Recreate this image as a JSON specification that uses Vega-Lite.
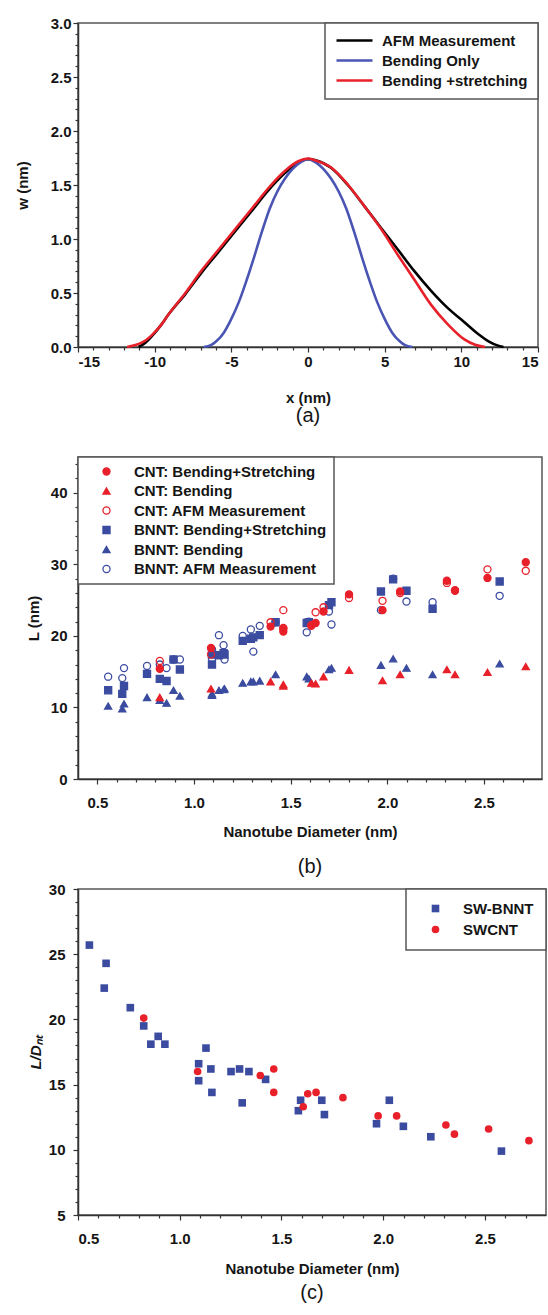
{
  "$schema": "https://vega.github.io/schema/vega-lite/v6.json",
  "padding": {"left": 14, "top": 15, "right": 0, "bottom": 0},
  "bounds": "flush",
  "spacing": 110,
  "background": "white",
  "resolve": {
    "scale": {"x": "independent", "y": "independent", "color": "independent", "shape": "independent", "stroke": "independent", "fill": "independent"},
    "legend": {"color": "independent", "shape": "independent", "stroke": "independent", "fill": "independent"}
  },
  "config": {
    "font": "Liberation Sans",
    "view": {"stroke": "#555555", "strokeWidth": 1.5},
    "axis": {
      "grid": false,
      "labelFont": "Liberation Sans", "labelFontSize": 15, "labelFontWeight": "bold", "labelColor": "#151515",
      "titleFont": "Liberation Sans", "titleFontSize": 15, "titleFontWeight": "bold", "titleColor": "#151515",
      "domainColor": "#333333", "domainWidth": 1.5, "tickColor": "#333333", "tickWidth": 1.2, "tickSize": 5
    },
    "legend": {
      "labelFont": "Liberation Sans", "labelFontSize": 15, "labelFontWeight": "bold", "labelColor": "#151515", "labelLimit": 400,
      "strokeColor": "#555555", "fillColor": "white", "strokeWidth": 1.5, "cornerRadius": 0
    },
    "title": {"font": "Liberation Sans", "fontSize": 20, "fontWeight": "normal", "color": "#151515"}
  },
  "datasets": {
    "curves": [
      {"series": "AFM Measurement", "x": -11.05, "w": 0},
      {"series": "AFM Measurement", "x": -10.6, "w": 0.04},
      {"series": "AFM Measurement", "x": -10.18, "w": 0.1},
      {"series": "AFM Measurement", "x": -9.6, "w": 0.2},
      {"series": "AFM Measurement", "x": -9.1, "w": 0.3},
      {"series": "AFM Measurement", "x": -8.0, "w": 0.49},
      {"series": "AFM Measurement", "x": -6.93, "w": 0.69},
      {"series": "AFM Measurement", "x": -5.84, "w": 0.88},
      {"series": "AFM Measurement", "x": -4.76, "w": 1.07},
      {"series": "AFM Measurement", "x": -3.67, "w": 1.26},
      {"series": "AFM Measurement", "x": -2.59, "w": 1.45},
      {"series": "AFM Measurement", "x": -1.51, "w": 1.61},
      {"series": "AFM Measurement", "x": -0.64, "w": 1.71},
      {"series": "AFM Measurement", "x": 0, "w": 1.74},
      {"series": "AFM Measurement", "x": 0.5, "w": 1.73},
      {"series": "AFM Measurement", "x": 1.5, "w": 1.66},
      {"series": "AFM Measurement", "x": 2.6, "w": 1.5},
      {"series": "AFM Measurement", "x": 3.7, "w": 1.3},
      {"series": "AFM Measurement", "x": 4.78, "w": 1.1},
      {"series": "AFM Measurement", "x": 5.87, "w": 0.9},
      {"series": "AFM Measurement", "x": 6.95, "w": 0.7},
      {"series": "AFM Measurement", "x": 8.03, "w": 0.52},
      {"series": "AFM Measurement", "x": 9.12, "w": 0.36},
      {"series": "AFM Measurement", "x": 10.2, "w": 0.23},
      {"series": "AFM Measurement", "x": 11.1, "w": 0.12},
      {"series": "AFM Measurement", "x": 11.8, "w": 0.05},
      {"series": "AFM Measurement", "x": 12.35, "w": 0.015},
      {"series": "AFM Measurement", "x": 12.75, "w": 0},
      {"series": "Bending Only", "x": -6.8, "w": 0},
      {"series": "Bending Only", "x": -6.3, "w": 0.02},
      {"series": "Bending Only", "x": -6.0, "w": 0.05},
      {"series": "Bending Only", "x": -5.5, "w": 0.13},
      {"series": "Bending Only", "x": -5.0, "w": 0.26},
      {"series": "Bending Only", "x": -4.5, "w": 0.42},
      {"series": "Bending Only", "x": -4.0, "w": 0.62},
      {"series": "Bending Only", "x": -3.5, "w": 0.84},
      {"series": "Bending Only", "x": -3.0, "w": 1.07},
      {"series": "Bending Only", "x": -2.5, "w": 1.28},
      {"series": "Bending Only", "x": -2.0, "w": 1.44},
      {"series": "Bending Only", "x": -1.5, "w": 1.56},
      {"series": "Bending Only", "x": -1.0, "w": 1.65},
      {"series": "Bending Only", "x": -0.5, "w": 1.71},
      {"series": "Bending Only", "x": 0, "w": 1.74},
      {"series": "Bending Only", "x": 0.5, "w": 1.71},
      {"series": "Bending Only", "x": 1.0, "w": 1.65},
      {"series": "Bending Only", "x": 1.5, "w": 1.56},
      {"series": "Bending Only", "x": 2.0, "w": 1.44},
      {"series": "Bending Only", "x": 2.5, "w": 1.28},
      {"series": "Bending Only", "x": 3.0, "w": 1.07},
      {"series": "Bending Only", "x": 3.5, "w": 0.84},
      {"series": "Bending Only", "x": 4.0, "w": 0.62},
      {"series": "Bending Only", "x": 4.5, "w": 0.42},
      {"series": "Bending Only", "x": 5.0, "w": 0.26},
      {"series": "Bending Only", "x": 5.5, "w": 0.13},
      {"series": "Bending Only", "x": 6.0, "w": 0.05},
      {"series": "Bending Only", "x": 6.3, "w": 0.02},
      {"series": "Bending Only", "x": 6.8, "w": 0},
      {"series": "Bending +stretching", "x": -11.8, "w": 0},
      {"series": "Bending +stretching", "x": -11.2, "w": 0.02},
      {"series": "Bending +stretching", "x": -10.6, "w": 0.06},
      {"series": "Bending +stretching", "x": -10.18, "w": 0.11},
      {"series": "Bending +stretching", "x": -9.6, "w": 0.2},
      {"series": "Bending +stretching", "x": -9.1, "w": 0.3},
      {"series": "Bending +stretching", "x": -8.0, "w": 0.5},
      {"series": "Bending +stretching", "x": -6.93, "w": 0.71},
      {"series": "Bending +stretching", "x": -5.84, "w": 0.9},
      {"series": "Bending +stretching", "x": -4.76, "w": 1.09},
      {"series": "Bending +stretching", "x": -3.67, "w": 1.28},
      {"series": "Bending +stretching", "x": -2.59, "w": 1.47},
      {"series": "Bending +stretching", "x": -1.51, "w": 1.63},
      {"series": "Bending +stretching", "x": -0.64, "w": 1.72},
      {"series": "Bending +stretching", "x": 0, "w": 1.745},
      {"series": "Bending +stretching", "x": 0.44, "w": 1.73},
      {"series": "Bending +stretching", "x": 1.53, "w": 1.66},
      {"series": "Bending +stretching", "x": 2.62, "w": 1.5},
      {"series": "Bending +stretching", "x": 3.7, "w": 1.3},
      {"series": "Bending +stretching", "x": 4.78, "w": 1.09},
      {"series": "Bending +stretching", "x": 5.87, "w": 0.85},
      {"series": "Bending +stretching", "x": 6.95, "w": 0.62},
      {"series": "Bending +stretching", "x": 8.03, "w": 0.39},
      {"series": "Bending +stretching", "x": 9.12, "w": 0.21},
      {"series": "Bending +stretching", "x": 10.2, "w": 0.07},
      {"series": "Bending +stretching", "x": 10.9, "w": 0.02},
      {"series": "Bending +stretching", "x": 11.55, "w": 0}
    ],
    "lengths": [
      {"s": "BNNT: Bending+Stretching", "d": 0.556, "L": 12.4},
      {"s": "BNNT: Bending+Stretching", "d": 0.629, "L": 11.9},
      {"s": "BNNT: Bending+Stretching", "d": 0.638, "L": 13.0},
      {"s": "BNNT: Bending+Stretching", "d": 0.757, "L": 14.7},
      {"s": "BNNT: Bending+Stretching", "d": 0.823, "L": 14.0},
      {"s": "BNNT: Bending+Stretching", "d": 0.858, "L": 13.7},
      {"s": "BNNT: Bending+Stretching", "d": 0.894, "L": 16.7},
      {"s": "BNNT: Bending+Stretching", "d": 0.927, "L": 15.3},
      {"s": "BNNT: Bending+Stretching", "d": 1.093, "L": 17.4},
      {"s": "BNNT: Bending+Stretching", "d": 1.093, "L": 16.0},
      {"s": "BNNT: Bending+Stretching", "d": 1.129, "L": 17.3},
      {"s": "BNNT: Bending+Stretching", "d": 1.153, "L": 17.6},
      {"s": "BNNT: Bending+Stretching", "d": 1.158, "L": 17.4},
      {"s": "BNNT: Bending+Stretching", "d": 1.252, "L": 19.3},
      {"s": "BNNT: Bending+Stretching", "d": 1.294, "L": 19.6},
      {"s": "BNNT: Bending+Stretching", "d": 1.307, "L": 19.8},
      {"s": "BNNT: Bending+Stretching", "d": 1.34, "L": 20.1},
      {"s": "BNNT: Bending+Stretching", "d": 1.422, "L": 21.9},
      {"s": "BNNT: Bending+Stretching", "d": 1.583, "L": 21.8},
      {"s": "BNNT: Bending+Stretching", "d": 1.594, "L": 21.9},
      {"s": "BNNT: Bending+Stretching", "d": 1.698, "L": 24.3},
      {"s": "BNNT: Bending+Stretching", "d": 1.711, "L": 24.7},
      {"s": "BNNT: Bending+Stretching", "d": 1.967, "L": 26.2},
      {"s": "BNNT: Bending+Stretching", "d": 2.03, "L": 27.9},
      {"s": "BNNT: Bending+Stretching", "d": 2.099, "L": 26.3},
      {"s": "BNNT: Bending+Stretching", "d": 2.234, "L": 23.8},
      {"s": "BNNT: Bending+Stretching", "d": 2.581, "L": 27.6},
      {"s": "BNNT: Bending", "d": 0.556, "L": 10.2},
      {"s": "BNNT: Bending", "d": 0.629, "L": 9.8},
      {"s": "BNNT: Bending", "d": 0.638, "L": 10.5},
      {"s": "BNNT: Bending", "d": 0.757, "L": 11.4},
      {"s": "BNNT: Bending", "d": 0.823, "L": 11.0},
      {"s": "BNNT: Bending", "d": 0.858, "L": 10.6},
      {"s": "BNNT: Bending", "d": 0.894, "L": 12.4},
      {"s": "BNNT: Bending", "d": 0.927, "L": 11.6},
      {"s": "BNNT: Bending", "d": 1.093, "L": 11.7},
      {"s": "BNNT: Bending", "d": 1.093, "L": 11.9},
      {"s": "BNNT: Bending", "d": 1.129, "L": 12.4},
      {"s": "BNNT: Bending", "d": 1.153, "L": 12.5},
      {"s": "BNNT: Bending", "d": 1.158, "L": 12.6},
      {"s": "BNNT: Bending", "d": 1.252, "L": 13.4},
      {"s": "BNNT: Bending", "d": 1.294, "L": 13.6},
      {"s": "BNNT: Bending", "d": 1.307, "L": 13.6},
      {"s": "BNNT: Bending", "d": 1.34, "L": 13.7},
      {"s": "BNNT: Bending", "d": 1.422, "L": 14.6},
      {"s": "BNNT: Bending", "d": 1.583, "L": 14.3},
      {"s": "BNNT: Bending", "d": 1.594, "L": 14.0},
      {"s": "BNNT: Bending", "d": 1.698, "L": 15.3},
      {"s": "BNNT: Bending", "d": 1.711, "L": 15.5},
      {"s": "BNNT: Bending", "d": 1.967, "L": 15.9},
      {"s": "BNNT: Bending", "d": 2.03, "L": 16.8},
      {"s": "BNNT: Bending", "d": 2.099, "L": 15.5},
      {"s": "BNNT: Bending", "d": 2.234, "L": 14.6},
      {"s": "BNNT: Bending", "d": 2.581, "L": 16.1},
      {"s": "BNNT: AFM Measurement", "d": 0.556, "L": 14.3},
      {"s": "BNNT: AFM Measurement", "d": 0.629, "L": 14.1},
      {"s": "BNNT: AFM Measurement", "d": 0.638, "L": 15.5},
      {"s": "BNNT: AFM Measurement", "d": 0.757, "L": 15.8},
      {"s": "BNNT: AFM Measurement", "d": 0.823, "L": 16.0},
      {"s": "BNNT: AFM Measurement", "d": 0.858, "L": 15.5},
      {"s": "BNNT: AFM Measurement", "d": 0.894, "L": 16.7},
      {"s": "BNNT: AFM Measurement", "d": 0.927, "L": 16.7},
      {"s": "BNNT: AFM Measurement", "d": 1.093, "L": 18.1},
      {"s": "BNNT: AFM Measurement", "d": 1.093, "L": 16.8},
      {"s": "BNNT: AFM Measurement", "d": 1.129, "L": 20.1},
      {"s": "BNNT: AFM Measurement", "d": 1.153, "L": 18.7},
      {"s": "BNNT: AFM Measurement", "d": 1.158, "L": 16.7},
      {"s": "BNNT: AFM Measurement", "d": 1.252, "L": 20.0},
      {"s": "BNNT: AFM Measurement", "d": 1.294, "L": 20.9},
      {"s": "BNNT: AFM Measurement", "d": 1.307, "L": 17.8},
      {"s": "BNNT: AFM Measurement", "d": 1.34, "L": 21.4},
      {"s": "BNNT: AFM Measurement", "d": 1.422, "L": 21.9},
      {"s": "BNNT: AFM Measurement", "d": 1.583, "L": 20.5},
      {"s": "BNNT: AFM Measurement", "d": 1.594, "L": 22.0},
      {"s": "BNNT: AFM Measurement", "d": 1.698, "L": 23.4},
      {"s": "BNNT: AFM Measurement", "d": 1.711, "L": 21.6},
      {"s": "BNNT: AFM Measurement", "d": 1.967, "L": 23.6},
      {"s": "BNNT: AFM Measurement", "d": 2.03, "L": 28.0},
      {"s": "BNNT: AFM Measurement", "d": 2.099, "L": 24.8},
      {"s": "BNNT: AFM Measurement", "d": 2.234, "L": 24.7},
      {"s": "BNNT: AFM Measurement", "d": 2.581, "L": 25.6},
      {"s": "CNT: Bending+Stretching", "d": 0.823, "L": 15.4},
      {"s": "CNT: Bending+Stretching", "d": 1.088, "L": 18.3},
      {"s": "CNT: Bending+Stretching", "d": 1.396, "L": 21.3},
      {"s": "CNT: Bending+Stretching", "d": 1.462, "L": 20.6},
      {"s": "CNT: Bending+Stretching", "d": 1.462, "L": 21.0},
      {"s": "CNT: Bending+Stretching", "d": 1.607, "L": 21.5},
      {"s": "CNT: Bending+Stretching", "d": 1.629, "L": 21.8},
      {"s": "CNT: Bending+Stretching", "d": 1.67, "L": 23.4},
      {"s": "CNT: Bending+Stretching", "d": 1.802, "L": 25.8},
      {"s": "CNT: Bending+Stretching", "d": 1.975, "L": 23.6},
      {"s": "CNT: Bending+Stretching", "d": 2.066, "L": 26.2},
      {"s": "CNT: Bending+Stretching", "d": 2.308, "L": 27.7},
      {"s": "CNT: Bending+Stretching", "d": 2.35, "L": 26.3},
      {"s": "CNT: Bending+Stretching", "d": 2.518, "L": 28.1},
      {"s": "CNT: Bending+Stretching", "d": 2.716, "L": 30.3},
      {"s": "CNT: Bending", "d": 0.823, "L": 11.4},
      {"s": "CNT: Bending", "d": 1.088, "L": 12.6},
      {"s": "CNT: Bending", "d": 1.396, "L": 13.6},
      {"s": "CNT: Bending", "d": 1.462, "L": 13.2},
      {"s": "CNT: Bending", "d": 1.462, "L": 13.0},
      {"s": "CNT: Bending", "d": 1.607, "L": 13.4},
      {"s": "CNT: Bending", "d": 1.629, "L": 13.3},
      {"s": "CNT: Bending", "d": 1.67, "L": 14.3},
      {"s": "CNT: Bending", "d": 1.802, "L": 15.2},
      {"s": "CNT: Bending", "d": 1.975, "L": 13.75},
      {"s": "CNT: Bending", "d": 2.066, "L": 14.6},
      {"s": "CNT: Bending", "d": 2.308, "L": 15.3},
      {"s": "CNT: Bending", "d": 2.35, "L": 14.6},
      {"s": "CNT: Bending", "d": 2.518, "L": 14.9},
      {"s": "CNT: Bending", "d": 2.716, "L": 15.7},
      {"s": "CNT: AFM Measurement", "d": 0.823, "L": 16.5},
      {"s": "CNT: AFM Measurement", "d": 1.088, "L": 17.4},
      {"s": "CNT: AFM Measurement", "d": 1.396, "L": 21.9},
      {"s": "CNT: AFM Measurement", "d": 1.462, "L": 23.6},
      {"s": "CNT: AFM Measurement", "d": 1.462, "L": 21.1},
      {"s": "CNT: AFM Measurement", "d": 1.607, "L": 21.4},
      {"s": "CNT: AFM Measurement", "d": 1.629, "L": 23.3},
      {"s": "CNT: AFM Measurement", "d": 1.67, "L": 24.0},
      {"s": "CNT: AFM Measurement", "d": 1.802, "L": 25.3},
      {"s": "CNT: AFM Measurement", "d": 1.975, "L": 24.9},
      {"s": "CNT: AFM Measurement", "d": 2.066, "L": 26.0},
      {"s": "CNT: AFM Measurement", "d": 2.308, "L": 27.4},
      {"s": "CNT: AFM Measurement", "d": 2.35, "L": 26.4},
      {"s": "CNT: AFM Measurement", "d": 2.518, "L": 29.3},
      {"s": "CNT: AFM Measurement", "d": 2.716, "L": 29.1}
    ],
    "ratios": [
      {"s": "SW-BNNT", "d": 0.556, "v": 25.7},
      {"s": "SW-BNNT", "d": 0.629, "v": 22.4},
      {"s": "SW-BNNT", "d": 0.638, "v": 24.3},
      {"s": "SW-BNNT", "d": 0.757, "v": 20.9},
      {"s": "SW-BNNT", "d": 0.823, "v": 19.5},
      {"s": "SW-BNNT", "d": 0.858, "v": 18.1},
      {"s": "SW-BNNT", "d": 0.894, "v": 18.7},
      {"s": "SW-BNNT", "d": 0.927, "v": 18.1},
      {"s": "SW-BNNT", "d": 1.093, "v": 16.6},
      {"s": "SW-BNNT", "d": 1.093, "v": 15.3},
      {"s": "SW-BNNT", "d": 1.129, "v": 17.8},
      {"s": "SW-BNNT", "d": 1.153, "v": 16.2},
      {"s": "SW-BNNT", "d": 1.158, "v": 14.4},
      {"s": "SW-BNNT", "d": 1.252, "v": 16.0},
      {"s": "SW-BNNT", "d": 1.294, "v": 16.2},
      {"s": "SW-BNNT", "d": 1.307, "v": 13.6},
      {"s": "SW-BNNT", "d": 1.34, "v": 16.0},
      {"s": "SW-BNNT", "d": 1.422, "v": 15.4},
      {"s": "SW-BNNT", "d": 1.583, "v": 13.0},
      {"s": "SW-BNNT", "d": 1.594, "v": 13.8},
      {"s": "SW-BNNT", "d": 1.698, "v": 13.8},
      {"s": "SW-BNNT", "d": 1.711, "v": 12.7},
      {"s": "SW-BNNT", "d": 1.967, "v": 12.0},
      {"s": "SW-BNNT", "d": 2.03, "v": 13.8},
      {"s": "SW-BNNT", "d": 2.099, "v": 11.8},
      {"s": "SW-BNNT", "d": 2.234, "v": 11.0},
      {"s": "SW-BNNT", "d": 2.581, "v": 9.9},
      {"s": "SWCNT", "d": 0.823, "v": 20.1},
      {"s": "SWCNT", "d": 1.088, "v": 16.0},
      {"s": "SWCNT", "d": 1.396, "v": 15.7},
      {"s": "SWCNT", "d": 1.462, "v": 16.2},
      {"s": "SWCNT", "d": 1.462, "v": 14.4},
      {"s": "SWCNT", "d": 1.607, "v": 13.3},
      {"s": "SWCNT", "d": 1.629, "v": 14.3},
      {"s": "SWCNT", "d": 1.67, "v": 14.4},
      {"s": "SWCNT", "d": 1.802, "v": 14.0},
      {"s": "SWCNT", "d": 1.975, "v": 12.6},
      {"s": "SWCNT", "d": 2.066, "v": 12.6},
      {"s": "SWCNT", "d": 2.308, "v": 11.9},
      {"s": "SWCNT", "d": 2.35, "v": 11.2},
      {"s": "SWCNT", "d": 2.518, "v": 11.6},
      {"s": "SWCNT", "d": 2.716, "v": 10.7}
    ]
  },
  "vconcat": [
    {
      "width": 460, "height": 324,
      "title": {"text": "(a)", "orient": "bottom", "anchor": "middle", "offset": 1},
      "data": {"name": "curves"},
      "resolve": {"axis": {"x": "independent", "y": "independent"}},
      "layer": [
        {
          "mark": {"type": "line", "strokeWidth": 2.6, "interpolate": "monotone"},
          "encoding": {
            "x": {"field": "x", "type": "quantitative", "scale": {"domain": [-15, 15], "nice": false, "zero": false},
              "axis": {"orient": "bottom", "values": [-15, -10, -5, 0, 5, 10, 15], "labelExpr": "'' + datum.value", "labelPadding": 2,
                "title": "x (nm)", "titleY": 50, "titleBaseline": "middle"}},
            "y": {"field": "w", "type": "quantitative", "scale": {"domain": [0, 3], "nice": false},
              "axis": {"orient": "left", "values": [0, 0.5, 1, 1.5, 2, 2.5, 3], "format": ".1f", "labelPadding": 2,
                "title": "w (nm)", "titleX": -56, "titleY": 162, "titleBaseline": "middle", "titleAngle": -90, "titleAlign": "center"}},
            "color": {"field": "series", "type": "nominal",
              "scale": {"domain": ["AFM Measurement", "Bending Only", "Bending +stretching"], "range": ["#000000", "#4a55b3", "#e8202a"]},
              "legend": {"orient": "top-right", "offset": 0, "title": null, "padding": 10, "rowPadding": 4,
                "symbolType": "M-3,0H3", "symbolSize": 144, "symbolStrokeWidth": 2.6, "symbolOffset": 12, "labelOffset": 20}}
          }
        },
        {
          "mark": {"type": "point", "opacity": 0},
          "encoding": {
            "x": {"field": "x", "type": "quantitative",
              "axis": {"orient": "bottom", "values": [-14, -13, -12, -11, -9, -8, -7, -6, -4, -3, -2, -1, 1, 2, 3, 4, 6, 7, 8, 9, 11, 12, 13, 14],
                "labels": false, "domain": false, "title": null, "tickSize": 3}},
            "y": {"field": "w", "type": "quantitative",
              "axis": {"orient": "left", "values": [0.1, 0.2, 0.3, 0.4, 0.6, 0.7, 0.8, 0.9, 1.1, 1.2, 1.3, 1.4, 1.6, 1.7, 1.8, 1.9, 2.1, 2.2, 2.3, 2.4, 2.6, 2.7, 2.8, 2.9],
                "labels": false, "domain": false, "title": null, "tickSize": 3}}
          }
        }
      ]
    },
    {
      "width": 464, "height": 322,
      "title": {"text": "(b)", "orient": "bottom", "anchor": "middle", "offset": 18},
      "data": {"name": "lengths"},
      "resolve": {"axis": {"x": "independent", "y": "independent"}},
      "layer": [
        {
          "mark": {"type": "point", "size": 50, "strokeWidth": 1.3, "opacity": 1},
          "encoding": {
            "x": {"field": "d", "type": "quantitative", "scale": {"domain": [0.4, 2.8], "nice": false, "zero": false},
              "axis": {"orient": "bottom", "values": [0.5, 1, 1.5, 2, 2.5], "format": ".1f", "labelPadding": 11,
                "title": "Nanotube Diameter (nm)", "titleY": 52, "titleBaseline": "middle"}},
            "y": {"field": "L", "type": "quantitative", "scale": {"domain": [0, 45], "nice": false},
              "axis": {"orient": "left", "values": [0, 10, 20, 30, 40], "labelPadding": 6,
                "title": "L (nm)", "titleX": -45, "titleY": 161, "titleBaseline": "middle", "titleAngle": -90, "titleAlign": "center"}},
            "shape": {"field": "s", "type": "nominal",
              "scale": {"domain": ["CNT: Bending+Stretching", "CNT: Bending", "CNT: AFM Measurement", "BNNT: Bending+Stretching", "BNNT: Bending", "BNNT: AFM Measurement"],
                "range": ["circle", "triangle-up", "circle", "square", "triangle-up", "circle"]},
              "legend": {"orient": "top-left", "offset": 0, "title": null, "padding": 7, "rowPadding": 3.5, "symbolSize": 50, "symbolStrokeWidth": 1.3, "symbolOffset": 14, "labelOffset": 20}},
            "stroke": {"field": "s", "type": "nominal",
              "scale": {"domain": ["CNT: Bending+Stretching", "CNT: Bending", "CNT: AFM Measurement", "BNNT: Bending+Stretching", "BNNT: Bending", "BNNT: AFM Measurement"],
                "range": ["#e8202a", "#e8202a", "#e8202a", "#3b4ca0", "#3b4ca0", "#3b4ca0"]},
              "legend": {"orient": "top-left", "offset": 0, "title": null, "padding": 7, "rowPadding": 3.5, "symbolSize": 50, "symbolStrokeWidth": 1.3, "symbolOffset": 14, "labelOffset": 20}},
            "fill": {"field": "s", "type": "nominal",
              "scale": {"domain": ["CNT: Bending+Stretching", "CNT: Bending", "CNT: AFM Measurement", "BNNT: Bending+Stretching", "BNNT: Bending", "BNNT: AFM Measurement"],
                "range": ["#e8202a", "#e8202a", "transparent", "#3b4ca0", "#3b4ca0", "transparent"]},
              "legend": {"orient": "top-left", "offset": 0, "title": null, "padding": 7, "rowPadding": 3.5, "symbolSize": 50, "symbolStrokeWidth": 1.3, "symbolOffset": 14, "labelOffset": 20}}
          }
        },
        {
          "mark": {"type": "point", "opacity": 0},
          "encoding": {
            "x": {"field": "d", "type": "quantitative",
              "axis": {"orient": "bottom", "values": [0.6, 0.7, 0.8, 0.9, 1.1, 1.2, 1.3, 1.4, 1.6, 1.7, 1.8, 1.9, 2.1, 2.2, 2.3, 2.4, 2.6, 2.7],
                "labels": false, "domain": false, "title": null, "tickSize": 3}},
            "y": {"field": "L", "type": "quantitative",
              "axis": {"orient": "left", "values": [2, 4, 6, 8, 12, 14, 16, 18, 22, 24, 26, 28, 32, 34, 36, 38, 42, 44],
                "labels": false, "domain": false, "title": null, "tickSize": 3}}
          }
        }
      ]
    },
    {
      "width": 468, "height": 326,
      "title": {"text": "(c)", "orient": "bottom", "anchor": "middle", "offset": 7},
      "data": {"name": "ratios"},
      "resolve": {"axis": {"x": "independent", "y": "independent"}},
      "layer": [
        {
          "mark": {"type": "point", "filled": true, "size": 58, "opacity": 1},
          "encoding": {
            "x": {"field": "d", "type": "quantitative", "scale": {"domain": [0.5, 2.8], "nice": false, "zero": false},
              "axis": {"orient": "bottom", "values": [0.5, 1, 1.5, 2, 2.5], "format": ".1f", "labelPadding": 11,
                "title": "Nanotube Diameter (nm)", "titleY": 53, "titleBaseline": "middle"}},
            "y": {"field": "v", "type": "quantitative", "scale": {"domain": [5, 30], "nice": false, "zero": false},
              "axis": {"orient": "left", "values": [5, 10, 15, 20, 25, 30], "labelPadding": 8,
                "title": "L/Dₙₜ", "titleFontStyle": "italic", "titleX": -43, "titleY": 163, "titleBaseline": "middle", "titleAngle": -90, "titleAlign": "center"}},
            "shape": {"field": "s", "type": "nominal",
              "scale": {"domain": ["SW-BNNT", "SWCNT"], "range": ["square", "circle"]},
              "legend": {"orient": "top-right", "offset": 0, "title": null, "padding": 12, "rowPadding": 5, "symbolSize": 58, "symbolOffset": 10, "labelOffset": 20}},
            "color": {"field": "s", "type": "nominal",
              "scale": {"domain": ["SW-BNNT", "SWCNT"], "range": ["#3b4ca0", "#e8202a"]},
              "legend": {"orient": "top-right", "offset": 0, "title": null, "padding": 12, "rowPadding": 5, "symbolSize": 58, "symbolOffset": 10, "labelOffset": 20}}
          }
        },
        {
          "mark": {"type": "point", "opacity": 0},
          "encoding": {
            "x": {"field": "d", "type": "quantitative",
              "axis": {"orient": "bottom", "values": [0.6, 0.7, 0.8, 0.9, 1.1, 1.2, 1.3, 1.4, 1.6, 1.7, 1.8, 1.9, 2.1, 2.2, 2.3, 2.4, 2.6, 2.7],
                "labels": false, "domain": false, "title": null, "tickSize": 3}},
            "y": {"field": "v", "type": "quantitative",
              "axis": {"orient": "left", "values": [6, 7, 8, 9, 11, 12, 13, 14, 16, 17, 18, 19, 21, 22, 23, 24, 26, 27, 28, 29],
                "labels": false, "domain": false, "title": null, "tickSize": 3}}
          }
        }
      ]
    }
  ]
}
